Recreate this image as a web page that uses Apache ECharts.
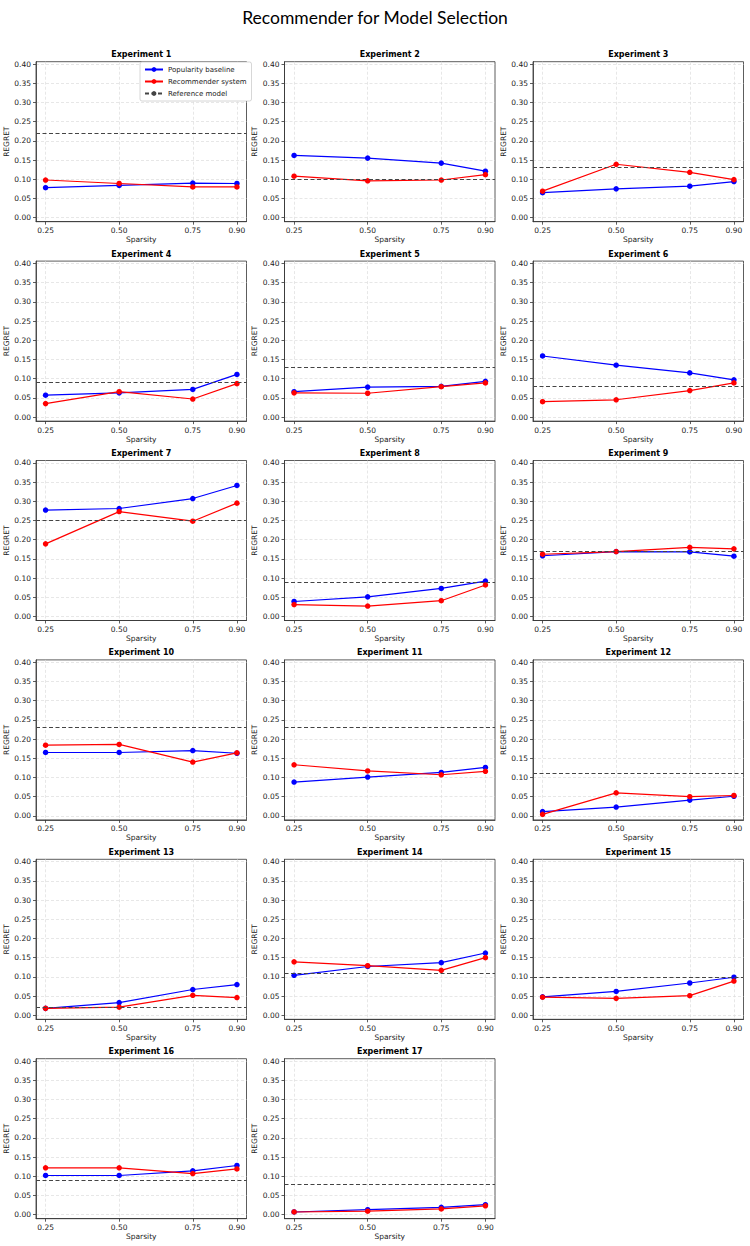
<!DOCTYPE html>
<html>
<head>
<meta charset="utf-8">
<script src="https://cdn.jsdelivr.net/npm/echarts@6/dist/echarts.min.js"></script>
<style>
html,body{margin:0;padding:0;background:#fff;}
#chart{width:750px;height:1246px;}
</style>
</head>
<body>
<div id="chart"></div>
<script>
// ---------- data ----------
const sparsity = [0.25, 0.50, 0.75, 0.90];
const xTicks = [0.25, 0.50, 0.75, 0.90];
const yTicks = [0.00, 0.05, 0.10, 0.15, 0.20, 0.25, 0.30, 0.35, 0.40];
const experiments = ['Experiment 1','Experiment 2','Experiment 3','Experiment 4','Experiment 5','Experiment 6',
  'Experiment 7','Experiment 8','Experiment 9','Experiment 10','Experiment 11','Experiment 12',
  'Experiment 13','Experiment 14','Experiment 15','Experiment 16','Experiment 17'];
const popularity = [
  [0.078, 0.084, 0.090, 0.089],
  [0.162, 0.155, 0.142, 0.121],
  [0.065, 0.075, 0.082, 0.094],
  [0.057, 0.063, 0.072, 0.111],
  [0.066, 0.078, 0.080, 0.093],
  [0.159, 0.135, 0.115, 0.097],
  [0.277, 0.281, 0.307, 0.341],
  [0.039, 0.051, 0.073, 0.092],
  [0.158, 0.169, 0.168, 0.157],
  [0.165, 0.165, 0.170, 0.163],
  [0.088, 0.101, 0.113, 0.126],
  [0.011, 0.023, 0.041, 0.051],
  [0.018, 0.033, 0.067, 0.080],
  [0.104, 0.127, 0.137, 0.162],
  [0.048, 0.062, 0.084, 0.099],
  [0.102, 0.102, 0.114, 0.128],
  [0.007, 0.013, 0.019, 0.026]
];
const recommender = [
  [0.098, 0.089, 0.080, 0.080],
  [0.108, 0.096, 0.098, 0.112],
  [0.069, 0.139, 0.118, 0.099],
  [0.035, 0.066, 0.047, 0.087],
  [0.063, 0.062, 0.079, 0.089],
  [0.040, 0.045, 0.069, 0.089],
  [0.189, 0.273, 0.248, 0.295],
  [0.031, 0.027, 0.041, 0.082],
  [0.162, 0.169, 0.180, 0.176],
  [0.184, 0.186, 0.140, 0.164],
  [0.133, 0.117, 0.107, 0.116],
  [0.004, 0.060, 0.050, 0.053],
  [0.018, 0.021, 0.052, 0.046],
  [0.139, 0.129, 0.117, 0.150],
  [0.047, 0.044, 0.051, 0.089],
  [0.122, 0.122, 0.107, 0.119],
  [0.007, 0.009, 0.015, 0.023]
];
const reference = [0.216, 0.1015, 0.134, 0.086, 0.133, 0.084, 0.253, 0.088, 0.174,
  0.233, 0.228, 0.112, 0.019, 0.106, 0.100, 0.091, 0.080];
const seriesNames = ['Popularity baseline', 'Recommender system', 'Reference model'];

// ---------- layout ----------
const colLeft = [36, 284.5, 533];
const plotW = 210.5;
const rowTop0 = 61.7, rowPitch = 199.4, plotH = 160;
const FONT = 'DejaVu Sans';

const grids = [], xAxes = [], yAxes = [], series = [], graphics = [];
experiments.forEach((name, i) => {
  const r = Math.floor(i / 3), c = i % 3;
  const left = colLeft[c], top = rowTop0 + r * rowPitch;
  grids.push({left: left, top: top, width: plotW, height: plotH, show: true,
    borderColor: '#333', borderWidth: 0.8, backgroundColor: 'transparent', containLabel: false});
  xAxes.push({type: 'value', gridIndex: i, min: 0.2175, max: 0.9325,
    name: 'Sparsity', nameLocation: 'middle', nameGap: 11,
    nameTextStyle: {fontFamily: FONT, fontSize: 7.5, color: '#222'},
    axisLine: {show: true, onZero: false, lineStyle: {color: '#333', width: 0.8}},
    axisTick: {show: true, length: 3, customValues: xTicks, lineStyle: {color: '#333', width: 0.8}},
    axisLabel: {customValues: xTicks, margin: 5, fontFamily: FONT, fontSize: 7.5, color: '#222',
      formatter: v => v.toFixed(2)},
    splitLine: {show: true, lineStyle: {color: '#dcdcdc', width: 0.7, type: [3, 2]}}
  });
  yAxes.push({type: 'value', gridIndex: i, min: -0.0105, max: 0.406,
    name: 'REGRET', nameLocation: 'middle', nameGap: 21, nameRotate: 90,
    nameTextStyle: {fontFamily: FONT, fontSize: 7.5, color: '#222'},
    axisLine: {show: true, onZero: false, lineStyle: {color: '#333', width: 0.8}},
    axisTick: {show: true, length: 3, customValues: yTicks, lineStyle: {color: '#333', width: 0.8}},
    axisLabel: {customValues: yTicks, margin: 5, fontFamily: FONT, fontSize: 7.5, color: '#222',
      formatter: v => v.toFixed(2)},
    splitLine: {show: true, lineStyle: {color: '#dcdcdc', width: 0.7, type: [3, 2]}}
  });
  series.push({type: 'line', name: seriesNames[0], xAxisIndex: i, yAxisIndex: i,
    data: sparsity.map((x, j) => [x, popularity[i][j]]),
    symbol: 'circle', symbolSize: 5.5, color: '#0000ff',
    lineStyle: {color: '#0000ff', width: 1.2}, itemStyle: {color: '#0000ff'}, z: 3, animation: false});
  series.push({type: 'line', name: seriesNames[1], xAxisIndex: i, yAxisIndex: i,
    data: sparsity.map((x, j) => [x, recommender[i][j]]),
    symbol: 'circle', symbolSize: 5.5, color: '#ff0000',
    lineStyle: {color: '#ff0000', width: 1.2}, itemStyle: {color: '#ff0000'}, z: 4, animation: false});
  series.push({type: 'line', name: seriesNames[2], xAxisIndex: i, yAxisIndex: i,
    data: [], symbol: 'none', color: '#444',
    lineStyle: {color: '#444', width: 1.1, type: [4, 2.5]}, z: 2, animation: false,
    markLine: {silent: true, symbol: 'none', animation: false, label: {show: false},
      lineStyle: {color: '#444', width: 1.1, type: [4, 2.5]},
      data: [{yAxis: reference[i]}]}
  });
  graphics.push({type: 'text', x: left + plotW / 2, y: top - 7,
    style: {text: name, fontFamily: FONT, fontSize: 8, fontWeight: 'bold', fill: '#000',
      align: 'center', verticalAlign: 'middle'}});
});

const option = {
  animation: false,
  backgroundColor: '#fff',
  title: {text: 'Recommender for Model Selection', left: 'center', top: 3,
    textStyle: {fontFamily: 'Lato', fontSize: 17.5, fontWeight: 'normal', color: '#000'}},
  legend: {data: seriesNames, orient: 'vertical', left: 140, top: 62,
    backgroundColor: '#fff', borderColor: '#ccc', borderWidth: 0.8, borderRadius: 2,
    padding: [4, 5, 4, 4], itemGap: 5, itemWidth: 18, itemHeight: 6,
    textStyle: {fontFamily: FONT, fontSize: 7, color: '#222'}, selectedMode: false},
  grid: grids, xAxis: xAxes, yAxis: yAxes, series: series, graphic: graphics
};
const chart = echarts.init(document.getElementById('chart'), null, {renderer: 'svg'});
chart.setOption(option);
</script>
</body>
</html>
